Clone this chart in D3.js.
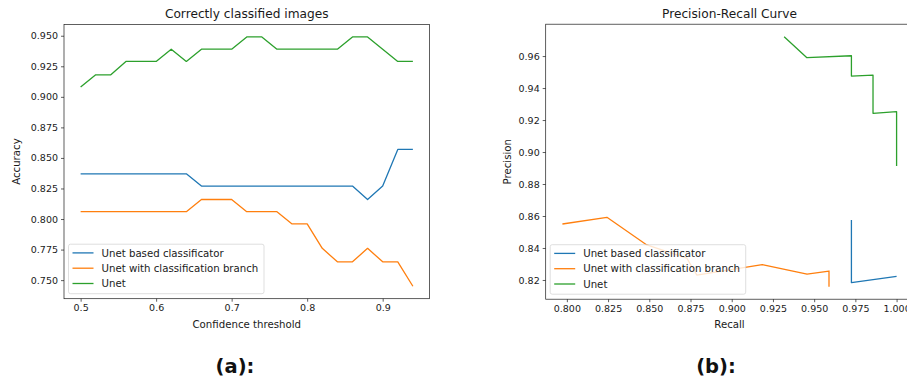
<!DOCTYPE html>
<html>
<head>
<meta charset="utf-8">
<script src="https://cdn.jsdelivr.net/npm/d3@7"></script>
<style>
  body { margin: 0; background: #fff; }
  svg { display: block; font-family: "DejaVu Sans", sans-serif; }
</style>
</head>
<body>
<div id="chart"></div>
<script>
const SERIES = ["Unet based classificator", "Unet with classification branch", "Unet"]
const COLORS = ["#1f77b4", "#ff7f0e", "#2ca02c"]

// (a) accuracy vs confidence threshold
const thresholds = [0.50, 0.52, 0.54, 0.56, 0.58, 0.60, 0.62, 0.64, 0.66, 0.68, 0.70, 0.72,
  0.74, 0.76, 0.78, 0.80, 0.82, 0.84, 0.86, 0.88, 0.90, 0.92, 0.94]
const accClassificator = [0.837, 0.837, 0.837, 0.837, 0.837, 0.837, 0.837, 0.837, 0.827, 0.827,
  0.827, 0.827, 0.827, 0.827, 0.827, 0.827, 0.827, 0.827, 0.827, 0.816, 0.827, 0.857, 0.857]
const accBranch = [0.806, 0.806, 0.806, 0.806, 0.806, 0.806, 0.806, 0.806, 0.816, 0.816,
  0.816, 0.806, 0.806, 0.806, 0.796, 0.796, 0.776, 0.765, 0.765, 0.776, 0.765, 0.765, 0.745]
const accUnet = [0.908, 0.918, 0.918, 0.929, 0.929, 0.929, 0.939, 0.929, 0.939, 0.939,
  0.939, 0.949, 0.949, 0.939, 0.939, 0.939, 0.939, 0.939, 0.949, 0.949, 0.939, 0.929, 0.929]
const accTicksX = [0.5, 0.6, 0.7, 0.8, 0.9]
const accTicksY = [0.750, 0.775, 0.800, 0.825, 0.850, 0.875, 0.900, 0.925, 0.950]

// (b) precision-recall curves
const recallClassificator = [0.9726, 0.9726, 1.0]
const precClassificator = [0.8575, 0.8183, 0.8223]
const recallBranch = [0.7973, 0.8243, 0.8485, 0.8728, 0.8788, 0.9185, 0.9457, 0.9590, 0.9590]
const precBranch = [0.8550, 0.8592, 0.8419, 0.8336, 0.8231, 0.8296, 0.8236, 0.8256, 0.8158]
const recallUnet = [0.9318, 0.9456, 0.9726, 0.9726, 0.9857, 0.9857, 1.0, 1.0]
const precUnet = [0.9721, 0.9590, 0.9602, 0.9475, 0.9481, 0.9242, 0.9252, 0.8913]
const prTicksX = [0.800, 0.825, 0.850, 0.875, 0.900, 0.925, 0.950, 0.975, 1.000]
const prTicksY = [0.82, 0.84, 0.86, 0.88, 0.90, 0.92, 0.94, 0.96]

const W = 907, H = 383
const tickFont = 9.5
const labelFont = 10.2
const titleFont = 12.2
const textColor = "#1a1a1a"

const svg = d3.select("#chart").append("svg")
  .attr("width", W)
  .attr("height", H)

// matplotlib-like 5% padding around the data
function padded(values) {
  const [lo, hi] = d3.extent(values)
  const m = (hi - lo) * 0.05
  return [lo - m, hi + m]
}

function panel(opts) {
  const { left, right, top, bottom } = opts
  const x = d3.scaleLinear().domain(padded(opts.xs.flat())).range([left, right])
  const y = d3.scaleLinear().domain(padded(opts.ys.flat())).range([bottom, top])

  const g = svg.append("g")

  // lines
  const line = d3.line().x(d => x(d[0])).y(d => y(d[1]))
  opts.xs.forEach((xs, i) => {
    const pts = xs.map((v, j) => [v, opts.ys[i][j]])
    g.append("path")
      .attr("d", line(pts))
      .attr("fill", "none")
      .attr("stroke", COLORS[i])
      .attr("stroke-width", 1.3)
      .attr("stroke-linejoin", "round")
  })

  // axes
  const xAxis = d3.axisBottom(x).tickValues(opts.ticksX).tickFormat(d3.format(opts.fmtX))
    .tickSizeInner(3).tickSizeOuter(0).tickPadding(3)
  const yAxis = d3.axisLeft(y).tickValues(opts.ticksY).tickFormat(d3.format(opts.fmtY))
    .tickSizeInner(3).tickSizeOuter(0).tickPadding(3)

  const gx = g.append("g").attr("transform", `translate(0,${bottom})`).call(xAxis)
  const gy = g.append("g").attr("transform", `translate(${left},0)`).call(yAxis)
  for (const a of [gx, gy]) {
    a.select(".domain").remove()
    a.selectAll("line").attr("stroke", textColor).attr("stroke-width", 0.7)
    a.selectAll("text").attr("fill", textColor).attr("font-size", tickFont)
      .attr("font-family", "DejaVu Sans")
  }

  // frame
  g.append("rect")
    .attr("x", left).attr("y", top)
    .attr("width", right - left).attr("height", bottom - top)
    .attr("fill", "none")
    .attr("stroke", textColor)
    .attr("stroke-width", 0.7)

  // title and labels
  g.append("text")
    .attr("x", (left + right) / 2).attr("y", 18)
    .attr("text-anchor", "middle")
    .attr("font-size", titleFont)
    .attr("fill", textColor)
    .text(opts.title)

  g.append("text")
    .attr("x", (left + right) / 2).attr("y", 328)
    .attr("text-anchor", "middle")
    .attr("font-size", labelFont)
    .attr("fill", textColor)
    .text(opts.xLabel)

  g.append("text")
    .attr("transform", `translate(${opts.yLabelX},${(top + bottom) / 2}) rotate(-90)`)
    .attr("text-anchor", "middle")
    .attr("font-size", labelFont)
    .attr("fill", textColor)
    .text(opts.yLabel)

  // legend, lower left
  const lx = left + 4.5, ly = bottom - 54.5
  const lg = g.append("g").attr("transform", `translate(${lx},${ly})`)
  lg.append("rect")
    .attr("width", 195.5).attr("height", 49.5)
    .attr("rx", 2).attr("ry", 2)
    .attr("fill", "rgba(255,255,255,0.8)")
    .attr("stroke", "rgba(204,204,204,0.8)")
    .attr("stroke-width", 0.8)
  SERIES.forEach((name, i) => {
    const ry = 8.7 + i * 15.3
    lg.append("line")
      .attr("x1", 4).attr("x2", 25)
      .attr("y1", ry).attr("y2", ry)
      .attr("stroke", COLORS[i])
      .attr("stroke-width", 1.3)
    lg.append("text")
      .attr("x", 33).attr("y", ry + 3.7)
      .attr("font-size", labelFont)
      .attr("fill", textColor)
      .text(name)
  })

  // sub-caption
  svg.append("text")
    .attr("x", opts.captionX).attr("y", 373)
    .attr("text-anchor", "middle")
    .attr("font-size", 19.5)
    .attr("font-weight", "bold")
    .attr("fill", "#111")
    .text(opts.caption)
}

panel({
  left: 64, right: 429.5, top: 24.5, bottom: 298.7,
  xs: [thresholds, thresholds, thresholds],
  ys: [accClassificator, accBranch, accUnet],
  ticksX: accTicksX, ticksY: accTicksY, fmtX: ".1f", fmtY: ".3f",
  title: "Correctly classified images",
  xLabel: "Confidence threshold",
  yLabel: "Accuracy", yLabelX: 20,
  caption: "(a):", captionX: 235
})

panel({
  left: 545.7, right: 913.3, top: 24.2, bottom: 299.2,
  xs: [recallClassificator, recallBranch, recallUnet],
  ys: [precClassificator, precBranch, precUnet],
  ticksX: prTicksX, ticksY: prTicksY, fmtX: ".3f", fmtY: ".2f",
  title: "Precision-Recall Curve",
  xLabel: "Recall",
  yLabel: "Precision", yLabelX: 511,
  caption: "(b):", captionX: 716
})
</script>
</body>
</html>
